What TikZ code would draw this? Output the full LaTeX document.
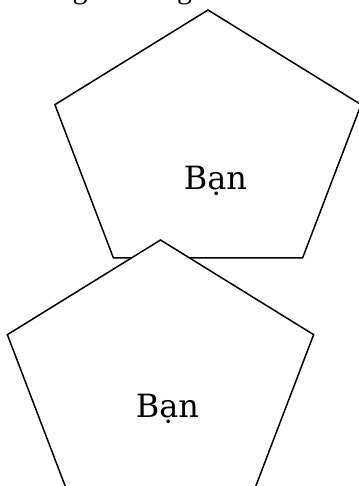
\documentclass[tikz,border=0pt]{standalone}
\usepackage{fontspec}
\setmainfont{DejaVu Serif}
\newfontfamily\titlefont{Liberation Serif}
\begin{document}
\begin{tikzpicture}
[x=1pt,y=1pt,
pentagon/.style={draw,fill=white,line width=1.5pt,line join=miter},
label/.style={inner sep=0pt,anchor=base,font=\fontsize{32}{32}\selectfont},
titlepart/.style={inner sep=0pt,anchor=base,font=\titlefont\fontsize{30}{30}\selectfont}
]
\useasboundingbox (0,0) rectangle (358,486);
% title above, mostly off the page
\node[titlepart] (gOne) at (80,487.5) {g};
\node[titlepart] (gTwo) at (184.5,487.5) {g};
% upper pentagon
\begin{scope}[shift={(208,339)}]
\draw[pentagon] (90:161 and 137) -- (162:161 and 137) -- (234:161 and 137)
  -- (306:161 and 137) -- (18:161 and 137) -- cycle;
\end{scope}
\node[label] (banTren) at (215.5,296) {Bạn};
% lower pentagon
\begin{scope}[shift={(160.5,109)}]
\draw[pentagon] (90:161 and 137) -- (162:161 and 137) -- (234:161 and 137)
  -- (306:161 and 137) -- (18:161 and 137) -- cycle;
\end{scope}
\node[label] (banDuoi) at (167.5,68) {Bạn};
\end{tikzpicture}
\end{document}
